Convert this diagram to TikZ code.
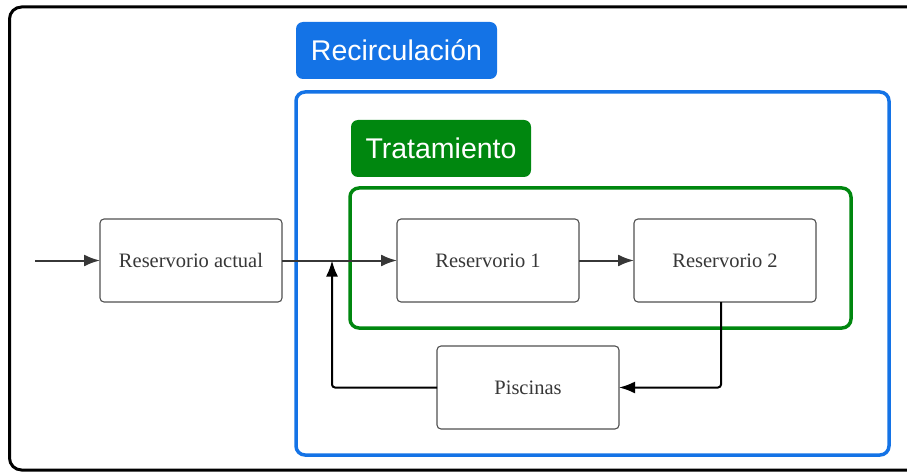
\documentclass[tikz,border=0pt]{standalone}
\usepackage{fontspec}
\setmainfont{Liberation Serif}
\setsansfont{Liberation Sans}
\usepackage{tikz}
\usetikzlibrary{positioning,arrows.meta}

\definecolor{recblue}{RGB}{20,115,230}
\definecolor{tratgreen}{RGB}{0,135,15}
\definecolor{boxgray}{RGB}{80,80,80}
\definecolor{arrgray}{RGB}{55,55,55}

\begin{document}
\begin{tikzpicture}
  [x=1pt,y=-1pt,
   every node/.style={inner sep=0pt,outer sep=0pt},
   unit/.style={draw=boxgray,line width=1.1pt,rounded corners=4pt,fill=white,
     minimum width=182pt,minimum height=83pt,font=\fontsize{20.5}{24}\selectfont,text=arrgray},
   tag/.style={rounded corners=7pt,text=white,minimum height=57pt,
     font=\sffamily\fontsize{28.5}{32}\selectfont},
   frame/.style={line width=3.5pt,rounded corners=9pt,fill=none},
   tip/.style={-{Latex[length=16pt,width=12pt]}},
   flow/.style={draw=arrgray,line width=2pt,tip},
   back/.style={draw=black,line width=2pt,rounded corners=3pt,tip}]

  \useasboundingbox (0,0) rectangle (907,473);
  \clip (0,0) rectangle (907,473);
  \draw[line width=3pt,rounded corners=12pt] (9.5,7) rectangle (930,470);

  \node[frame,draw=recblue,minimum width=593pt,minimum height=363pt] (rec) at (592.5,273.5) {};
  \node[tag,fill=recblue,minimum width=201pt] (reclbl) at (396.5,50.5) {Recirculación};
  \node[frame,draw=tratgreen,minimum width=501pt,minimum height=140pt] (trat) at (600.5,258) {};
  \node[tag,fill=tratgreen,minimum width=180pt] (tratlbl) at (441,148.5) {Tratamiento};

  \node[unit] (actual) at (191,260.5) {Reservorio actual};
  \node[unit] (r1) at (488,260.5) {Reservorio 1};
  \node[unit] (r2) at (725,260.5) {Reservorio 2};
  \node[unit] (pis) at (528,387.5) {Piscinas};
  \coordinate (in) at (35,260.5);
  \coordinate (join) at (332,260.5);

  \draw[flow] (in) -- (actual);
  \draw[flow] (actual) -- (r1);
  \draw[flow] (r1) -- (r2);
  \draw[back] (r2.south -| 721,0) |- (pis.east);
  \draw[back] (pis.west) -| (join);
\end{tikzpicture}
\end{document}
